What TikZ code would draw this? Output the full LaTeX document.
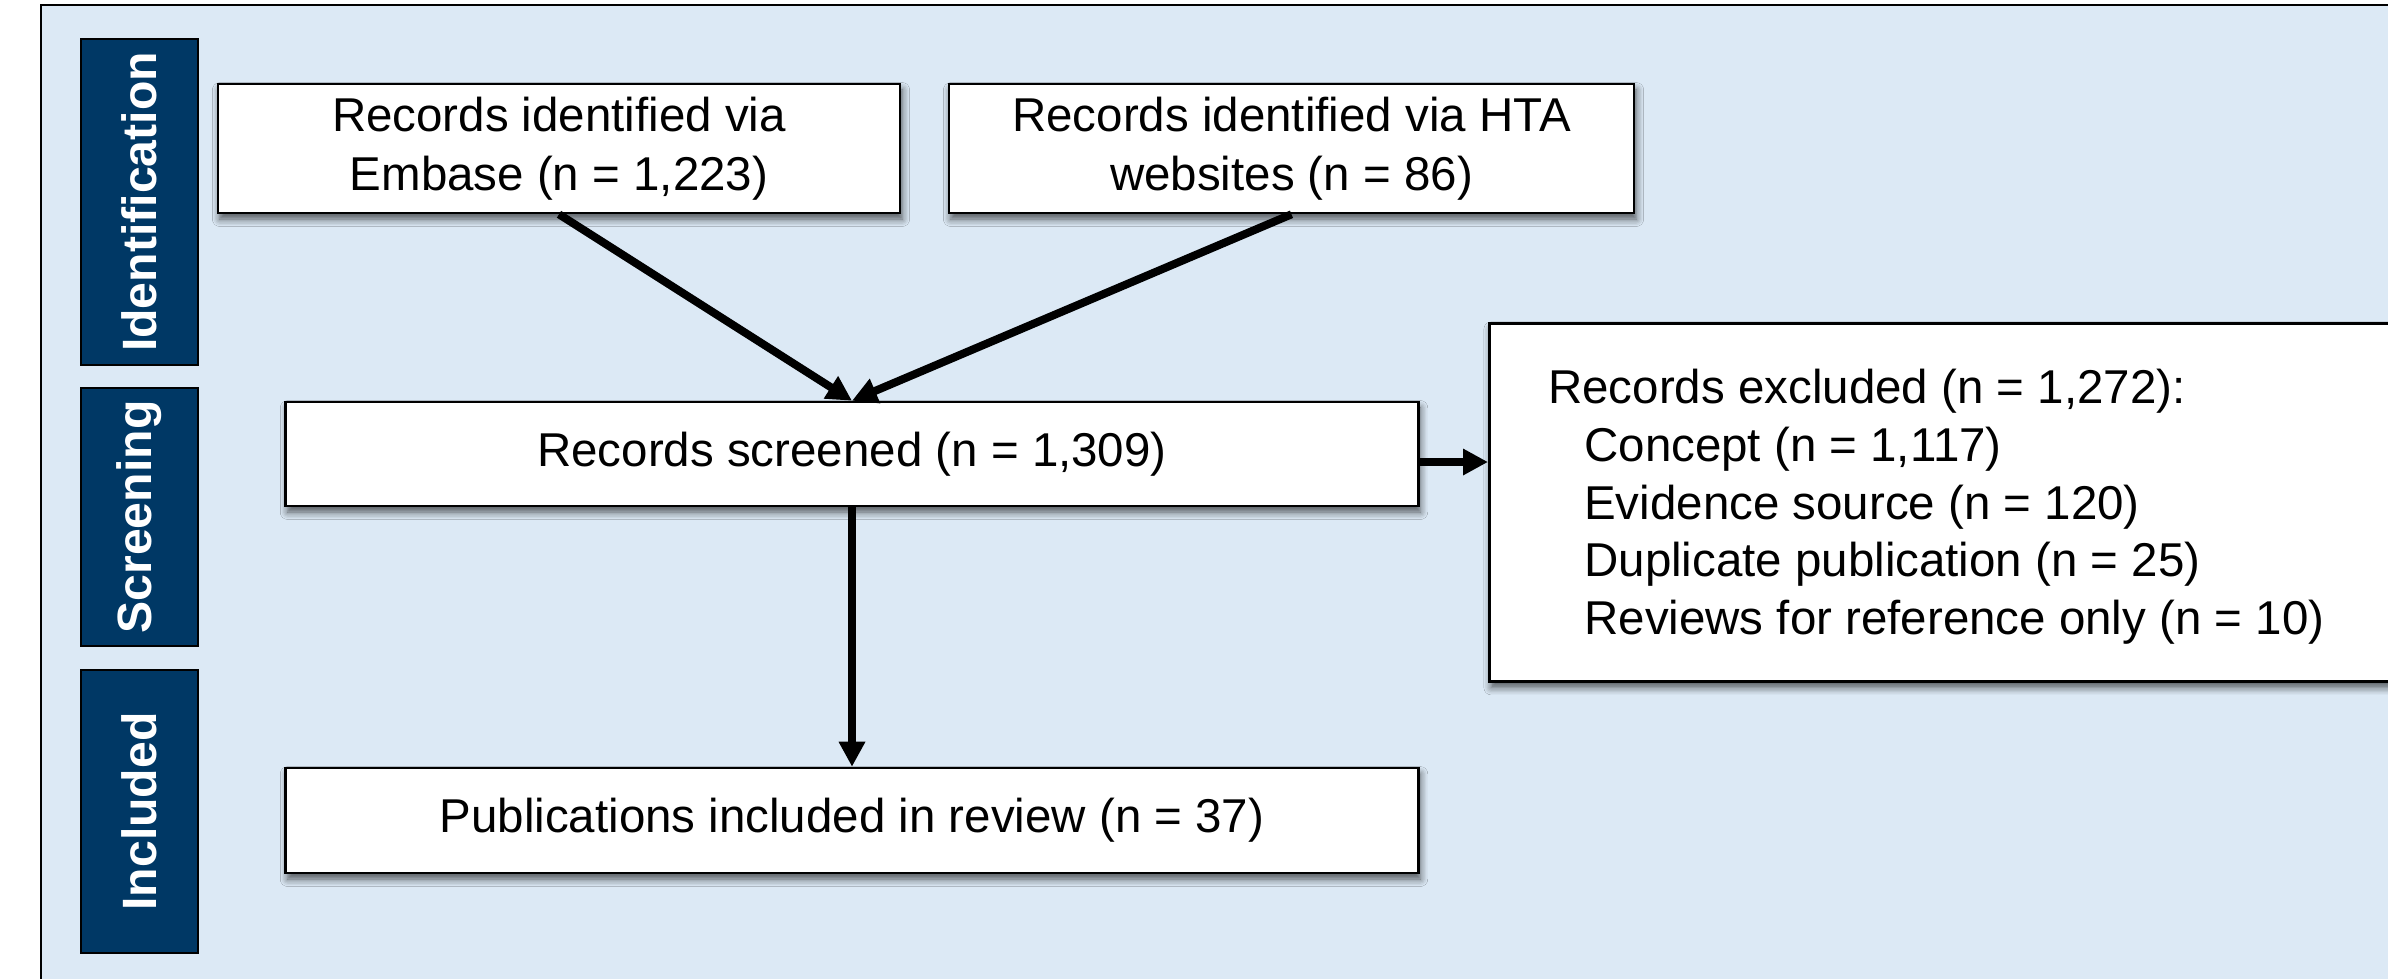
\documentclass[tikz,border=0pt]{standalone}
\usepackage{fontspec}
\setmainfont{Liberation Sans}
\usetikzlibrary{arrows.meta,shadows.blur}
\definecolor{bgblue}{HTML}{DCE9F5}
\definecolor{navy}{HTML}{003865}
\begin{document}
\begin{tikzpicture}[x=0.01cm,y=-0.01cm,
  box/.style={draw=black, line width=0.025cm, fill=white, inner sep=0pt, align=center,
    font=\fontsize{13.5}{16.8}\selectfont,
    blur shadow={shadow xshift=0.02cm, shadow yshift=-0.06cm, shadow blur steps=6, shadow opacity=65}},
  tab/.style={draw=black, line width=0.02cm, fill=navy, text=white, rotate=90, inner sep=0pt,
    minimum height=1.17cm, font=\fontsize{13.7}{16}\selectfont\bfseries},
  conn/.style={line width=0.08cm, -{Triangle[length=0.25cm,width=0.25cm]}}]
\useasboundingbox (0,0) rectangle (2388,978);
\clip (0,0) rectangle (2388,978);
\fill[white] (0,0) rectangle (2388,978);
\draw[fill=bgblue, line width=0.025cm] (41,5) rectangle (2450,1050);
% phase tabs
\node[tab, minimum width=3.26cm] (tid) at (139.5,202) {Identification};
\node[tab, minimum width=2.58cm] (tsc) at (139.5,517) {Screening};
\node[tab, minimum width=2.83cm] (tin) at (139.5,811.5) {Included};
% boxes
\node[box, minimum width=6.82cm, minimum height=1.29cm] (emb) at (559,148.5) {Records identified via\\Embase (n = 1,223)};
\node[box, minimum width=6.85cm, minimum height=1.29cm] (hta) at (1291.5,148.5) {Records identified via HTA\\websites (n = 86)};
\node[box, minimum width=11.32cm, minimum height=1.04cm] (scr) at (852,454) {Records screened (n = 1,309)};
\node[box, minimum width=11.32cm, minimum height=1.05cm] (inc) at (852,820.5) {Publications included in review (n = 37)};
\node[box, anchor=north west, minimum width=9.6cm, minimum height=3.58cm, inner xsep=0.59cm] (exc) at (1488,322)
  {\begin{minipage}{8.42cm}\fontsize{13.5}{16.4}\selectfont\vspace*{0.09cm}%
   Records excluded (n = 1,272):\\
   \hspace*{0.36cm}Concept (n = 1,117)\\
   \hspace*{0.36cm}Evidence source (n = 120)\\
   \hspace*{0.36cm}Duplicate publication (n = 25)\\
   \hspace*{0.36cm}Reviews for reference only (n = 10)\end{minipage}};
% connectors
\draw[conn] (emb.south) -- (scr.north);
\draw[conn] (hta.south) -- (scr.north);
\draw[conn] (scr.south) -- (inc.north);
\draw[conn] (scr.east |- 0,462) -- (exc.west |- 0,462);
\end{tikzpicture}
\end{document}
